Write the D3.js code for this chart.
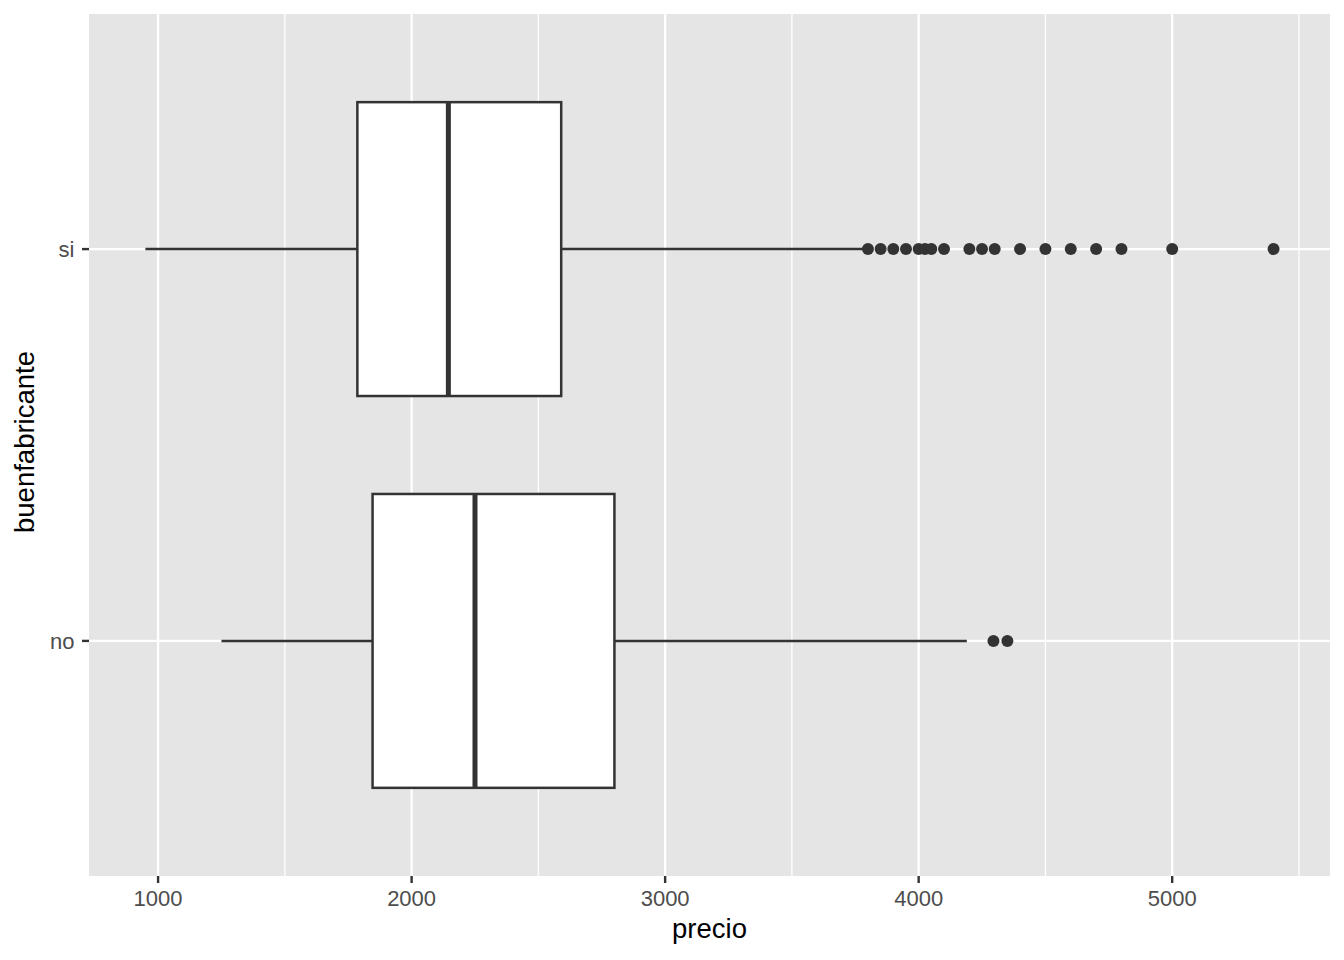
<!DOCTYPE html>
<html>
<head>
<meta charset="utf-8">
<script src="https://cdn.jsdelivr.net/npm/d3@7"></script>
<style>
  html, body { margin: 0; padding: 0; background: #ffffff; }
  svg { display: block; }
</style>
</head>
<body>
<svg id="chart" width="1344" height="960"></svg>
<script>
// ---- data ----
const categories = ["si", "no"];
const whiskerLow = [950, 1250];
const q1 = [1786, 1846];
const median = [2145, 2250];
const q3 = [2590, 2800];
const whiskerHigh = [3790, 4190];
const outliersSi = [3800, 3850, 3900, 3950, 4000, 4025, 4050, 4100, 4200, 4250, 4300, 4400, 4500, 4600, 4700, 4800, 5000, 5400];
const outliersNo = [4295, 4350];
const xTicks = [1000, 2000, 3000, 4000, 5000];
const xMinorTicks = [1500, 2500, 3500, 4500, 5500];
const xLabel = "precio";
const yLabel = "buenfabricante";

const outliers = [outliersSi, outliersNo];

// ---- layout ----
const svg = d3.select("#chart");
const panel = { left: 89, right: 1330, top: 14, bottom: 876 };
const font = "Liberation Sans, Arial, Helvetica, sans-serif";

const allVals = whiskerLow.concat(whiskerHigh, outliersSi, outliersNo);
const lo = d3.min(allVals), hi = d3.max(allVals);
const pad = (hi - lo) * 0.05;
const x = d3.scaleLinear().domain([lo - pad, hi + pad]).range([panel.left, panel.right]);

// discrete y: positions 1..n, expanded by 0.6
const y = d3.scaleLinear().domain([0.4, categories.length + 0.6]).range([panel.top, panel.bottom]);
const yPos = (i) => y(i + 1);
const boxHalf = (y(1.375) - y(1));

// background
svg.append("rect")
  .attr("x", panel.left).attr("y", panel.top)
  .attr("width", panel.right - panel.left).attr("height", panel.bottom - panel.top)
  .attr("fill", "#E5E5E5");

// minor grid
svg.append("g").selectAll("line").data(xMinorTicks.filter(v => x(v) <= panel.right)).join("line")
  .attr("x1", d => x(d)).attr("x2", d => x(d))
  .attr("y1", panel.top).attr("y2", panel.bottom)
  .attr("stroke", "#ffffff").attr("stroke-width", 1.3);

// major grid
svg.append("g").selectAll("line").data(xTicks).join("line")
  .attr("x1", d => x(d)).attr("x2", d => x(d))
  .attr("y1", panel.top).attr("y2", panel.bottom)
  .attr("stroke", "#ffffff").attr("stroke-width", 2.4);
svg.append("g").selectAll("line").data(categories).join("line")
  .attr("x1", panel.left).attr("x2", panel.right)
  .attr("y1", (d, i) => yPos(i)).attr("y2", (d, i) => yPos(i))
  .attr("stroke", "#ffffff").attr("stroke-width", 2.4);

// boxes
const col = "#333333";
const g = svg.append("g");
categories.forEach((c, i) => {
  const cy = yPos(i);
  // whiskers
  g.append("line").attr("x1", x(whiskerLow[i])).attr("x2", x(q1[i]))
    .attr("y1", cy).attr("y2", cy).attr("stroke", col).attr("stroke-width", 2.5);
  g.append("line").attr("x1", x(q3[i])).attr("x2", x(whiskerHigh[i]))
    .attr("y1", cy).attr("y2", cy).attr("stroke", col).attr("stroke-width", 2.5);
  // box
  g.append("rect").attr("x", x(q1[i])).attr("y", cy - boxHalf)
    .attr("width", x(q3[i]) - x(q1[i])).attr("height", 2 * boxHalf)
    .attr("fill", "#ffffff").attr("stroke", col).attr("stroke-width", 2.5);
  // median
  g.append("line").attr("x1", x(median[i])).attr("x2", x(median[i]))
    .attr("y1", cy - boxHalf).attr("y2", cy + boxHalf)
    .attr("stroke", col).attr("stroke-width", 5);
  // outliers
  g.append("g").selectAll("circle").data(outliers[i]).join("circle")
    .attr("cx", d => x(d)).attr("cy", cy).attr("r", 6)
    .attr("fill", col);
});

// x axis
const xAxis = svg.append("g").attr("transform", `translate(0,${panel.bottom})`);
xAxis.selectAll("line").data(xTicks).join("line")
  .attr("x1", d => x(d)).attr("x2", d => x(d)).attr("y1", 0).attr("y2", 7)
  .attr("stroke", col).attr("stroke-width", 2.4);
xAxis.selectAll("text").data(xTicks).join("text")
  .attr("x", d => x(d)).attr("y", 30)
  .attr("text-anchor", "middle")
  .attr("font-family", font)
  .attr("font-size", 22).attr("fill", "#4D4D4D")
  .text(d => d);

// y axis
const yAxis = svg.append("g").attr("transform", `translate(${panel.left},0)`);
yAxis.selectAll("line").data(categories).join("line")
  .attr("x1", -7).attr("x2", 0)
  .attr("y1", (d, i) => yPos(i)).attr("y2", (d, i) => yPos(i))
  .attr("stroke", col).attr("stroke-width", 2.4);
yAxis.selectAll("text").data(categories).join("text")
  .attr("x", -14.5).attr("y", (d, i) => yPos(i))
  .attr("dy", "0.36em")
  .attr("text-anchor", "end")
  .attr("font-family", font)
  .attr("font-size", 22).attr("fill", "#4D4D4D")
  .text(d => d);

// axis titles
svg.append("text")
  .attr("x", (panel.left + panel.right) / 2).attr("y", 938)
  .attr("text-anchor", "middle")
  .attr("font-family", font)
  .attr("font-size", 27.5).attr("fill", "#000000")
  .text(xLabel);
svg.append("text")
  .attr("transform", `translate(34,442) rotate(-90)`)
  .attr("text-anchor", "middle")
  .attr("font-family", font)
  .attr("font-size", 27.5).attr("fill", "#000000")
  .text(yLabel);
</script>
</body>
</html>
